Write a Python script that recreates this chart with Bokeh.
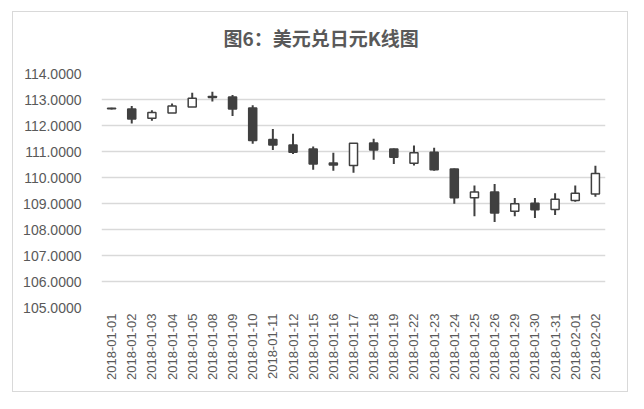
from bokeh.plotting import figure
from bokeh.models import ColumnDataSource, FixedTicker, NumeralTickFormatter, Range1d, Title
from bokeh.embed import file_html
from bokeh.resources import INLINE

dates = ["2018-01-01", "2018-01-02", "2018-01-03", "2018-01-04", "2018-01-05",
         "2018-01-08", "2018-01-09", "2018-01-10", "2018-01-11", "2018-01-12",
         "2018-01-15", "2018-01-16", "2018-01-17", "2018-01-18", "2018-01-19",
         "2018-01-22", "2018-01-23", "2018-01-24", "2018-01-25", "2018-01-26",
         "2018-01-29", "2018-01-30", "2018-01-31", "2018-02-01", "2018-02-02"]
open_ = [112.66, 112.63, 112.28, 112.48, 112.71, 113.12, 113.10, 112.67, 111.46, 111.25,
         111.10, 110.56, 110.46, 111.33, 111.10, 110.55, 110.97, 110.33, 109.22, 109.44,
         108.70, 109.01, 108.77, 109.12, 109.37]
close = [112.64, 112.25, 112.50, 112.75, 113.05, 113.08, 112.63, 111.42, 111.25, 110.97,
         110.52, 110.48, 111.32, 111.06, 110.78, 110.95, 110.30, 109.22, 109.44, 108.63,
         108.99, 108.76, 109.16, 109.39, 110.15]
high = [112.68, 112.75, 112.59, 112.85, 113.26, 113.30, 113.17, 112.78, 111.87, 111.68,
        111.19, 110.95, 111.32, 111.49, 111.12, 111.23, 111.14, 110.35, 109.69, 109.75,
        109.21, 109.21, 109.39, 109.69, 110.45]
low = [112.62, 112.08, 112.18, 112.48, 112.71, 112.92, 112.37, 111.30, 111.06, 110.90,
       110.30, 110.26, 110.18, 110.68, 110.52, 110.46, 110.26, 108.99, 108.51, 108.29,
       108.51, 108.44, 108.56, 109.07, 109.26]
y_ticks = [105, 106, 107, 108, 109, 110, 111, 112, 113, 114]
title_text = "图6：美元兑日元K线图"

DARK = "#404040"
TXT = "#595959"
GRID = "#d9d9d9"

src = ColumnDataSource(dict(
    x=dates, o=open_, c=close, h=high, l=low,
    top=[max(a, b) for a, b in zip(open_, close)],
    bot=[min(a, b) for a, b in zip(open_, close)],
    fill=["white" if c > o else DARK for o, c in zip(open_, close)],
))

p = figure(x_range=dates, y_range=Range1d(y_ticks[0], y_ticks[-1]),
           width=616, height=381, output_backend="svg", toolbar_location=None,
           min_border_left=88, min_border_right=24, min_border_top=61, min_border_bottom=86,
           title=title_text)
p.margin = (11, 0, 0, 12)
p.styles = {"border": "1.5px solid #d9d9d9"}

p.title.align = "left"
p.title.offset = 122
p.title.standoff = 10
p.title.text_font = "Noto Sans CJK SC"
p.title.text_font_size = "19px"
p.title.text_font_style = "bold"
p.title.text_color = TXT

# empty spacer between title and plot area
p.add_layout(Title(text=" ", text_font_size="1px", standoff=15), "above")

p.outline_line_color = None
p.background_fill_color = "white"
p.border_fill_color = "white"

p.segment(x0="x", y0="l", x1="x", y1="h", source=src, line_color=DARK, line_width=2)
p.vbar(x="x", top="top", bottom="bot", width=0.4, source=src,
       fill_color="fill", line_color=DARK, line_width=1.5)

p.xgrid.grid_line_color = None
p.ygrid.grid_line_color = GRID
p.ygrid.grid_line_width = 1.5
p.yaxis.ticker = FixedTicker(ticks=y_ticks)
p.yaxis.formatter = NumeralTickFormatter(format="0.0000")
p.yaxis.axis_line_color = None
p.yaxis.major_tick_line_color = None
p.yaxis.minor_tick_line_color = None
p.yaxis.major_label_standoff = 14
p.yaxis.major_label_text_font = "Liberation Sans"
p.yaxis.major_label_text_font_size = "14px"
p.yaxis.major_label_text_color = TXT

p.xaxis.axis_line_color = None
p.xaxis.major_tick_line_color = None
p.xaxis.minor_tick_line_color = None
p.xaxis.major_label_orientation = 1.5708
p.xaxis.major_label_standoff = 0
p.xaxis.major_label_text_font = "Liberation Sans"
p.xaxis.major_label_text_font_size = "13px"
p.xaxis.major_label_text_color = TXT

open("out.html", "w").write(file_html(p, INLINE))
